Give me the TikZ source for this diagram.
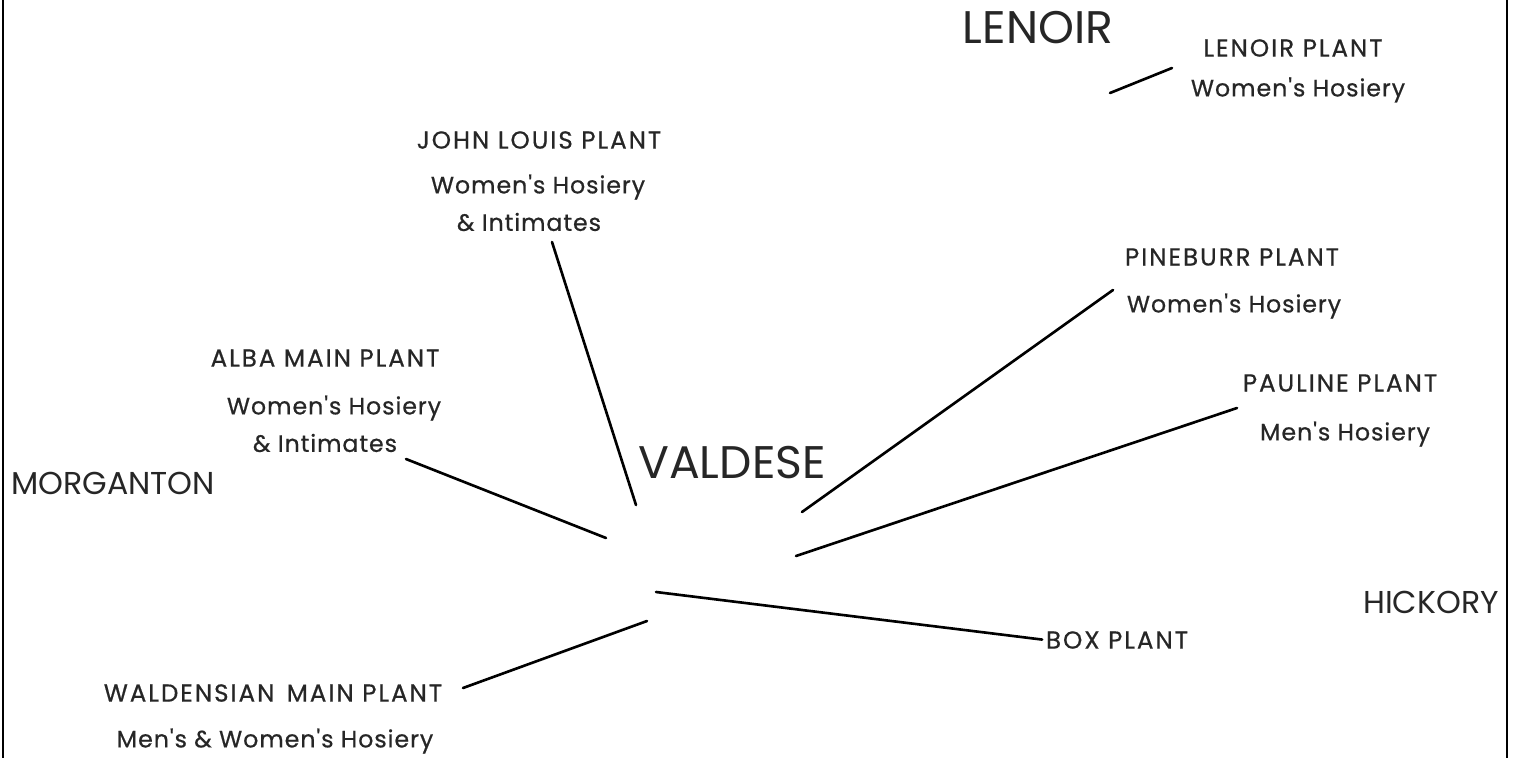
\documentclass[tikz,border=0pt]{standalone}
\usepackage{fontspec}
\setmainfont{Poppins}
\newfontfamily\plantfont{Poppins}[LetterSpace=8,FakeBold=0.6]
\newfontfamily\goodsfont{Poppins}[LetterSpace=4,FakeBold=0.6]
\begin{document}
\begin{tikzpicture}[x=0.02cm,y=-0.02cm]
\tikzset{
  town/.style={inner sep=0pt, text=black!85, font=\fontsize{18}{18}\selectfont},
  bigtown/.style={inner sep=0pt, text=black!85, font=\fontsize{26}{26}\selectfont},
  plant/.style={inner sep=0pt, text=black!85, font=\plantfont\fontsize{14}{14}\selectfont},
  goods/.style={inner sep=0pt, text=black!85, font=\goodsfont\fontsize{13.5}{13.5}\selectfont},
  link/.style={line width=1.5pt, line cap=round}
}
\useasboundingbox (0,0) rectangle (1518,758);

% Side rules
\draw[line width=1.6pt] (3,0) -- (3,758);
\draw[line width=1.6pt] (1507,0) -- (1507,758);

% Towns
\node[bigtown] (lenoir) at (1038,28) {LENOIR};
\node[bigtown] (valdese) at (732,463) {VALDESE};
\node[town] (morganton) at (113,483) {MORGANTON};
\node[town] (hickory) at (1431,602) {HICKORY};

% Plants
\node[plant] (lenoirplant) at (1293,48) {LENOIR PLANT};
\node[goods] (lenoirgoods) at (1298,90) {Women's Hosiery};

\node[plant] (johnlouis) at (539,140) {JOHN LOUIS PLANT};
\node[goods] (johnlouisgoods) at (538,187) {Women's Hosiery};
\node[goods] (johnlouisgoods2) at (529,222) {\& Intimates};

\node[plant] (pineburr) at (1232,257) {PINEBURR PLANT};
\node[goods] (pineburrgoods) at (1234,306) {Women's Hosiery};

\node[plant] (pauline) at (1340,383) {PAULINE PLANT};
\node[goods] (paulinegoods) at (1345,434) {Men's Hosiery};

\node[plant] (alba) at (325,358) {ALBA MAIN PLANT};
\node[goods] (albagoods) at (334,408) {Women's Hosiery};
\node[goods] (albagoods2) at (325,443) {\& Intimates};

\node[plant] (box) at (1117,640) {BOX PLANT};

\node[plant] (waldensian) at (273,693) {WALDENSIAN\hspace{0.5em}MAIN PLANT};
\node[goods] (waldensiangoods) at (275,741) {Men's \& Women's Hosiery};

% Line ends
\coordinate (lenoir-a) at (1110,93);
\coordinate (lenoir-b) at (1172,68);
\coordinate (jl-a) at (552,242);
\coordinate (jl-b) at (636,505);
\coordinate (alba-a) at (406,459);
\coordinate (alba-b) at (606,538);
\coordinate (pine-a) at (802,512);
\coordinate (pine-b) at (1113,290);
\coordinate (paul-a) at (796,556);
\coordinate (paul-b) at (1237,408);
\coordinate (box-a) at (656,592);
\coordinate (wald-a) at (647,621);
\coordinate (wald-b) at (463,688);

% Leader lines
\draw[link] (lenoir-a) -- (lenoir-b);
\draw[link] (jl-a) -- (jl-b);
\draw[link] (alba-a) -- (alba-b);
\draw[link] (pine-a) -- (pine-b);
\draw[link] (paul-a) -- (paul-b);
\draw[link, shorten >=2pt] (box-a) -- (box.west);
\draw[link] (wald-a) -- (wald-b);
\end{tikzpicture}
\end{document}
